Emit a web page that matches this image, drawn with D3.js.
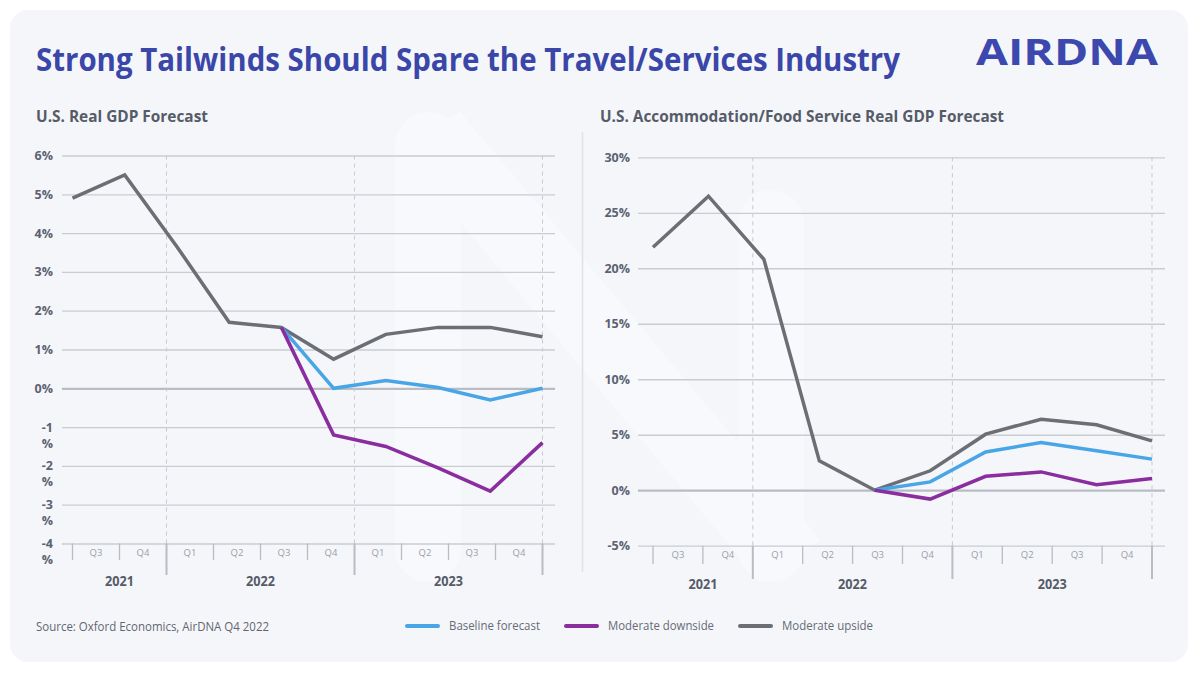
<!DOCTYPE html>
<html><head><meta charset="utf-8">
<script src="https://cdn.jsdelivr.net/npm/d3@7"></script>
<style>
body{margin:0;background:#ffffff;}
svg text{font-family:"Open Sans","Noto Sans",sans-serif;}
</style>
</head><body>
<svg id="chart" width="1200" height="677"></svg>
<script>
// ---------------- DATA ----------------
const quarters     = ["Q3","Q4","Q1","Q2","Q3","Q4","Q1","Q2","Q3","Q4"];
const quarterYears = [2021,2021,2022,2022,2022,2022,2023,2023,2023,2023];
const years        = [2021,2022,2023];

// U.S. Real GDP Forecast (%)  (null = series not drawn for that quarter)
const gdpUpside   = [4.9, 5.5, 3.65, 1.70, 1.57, 0.75, 1.39, 1.57, 1.57, 1.33];
const gdpBaseline = [null,null,null,null, 1.57, 0.00, 0.20, 0.02, -0.30, 0.00];
const gdpDownside = [null,null,null,null, 1.57, -1.20, -1.50, -2.05, -2.65, -1.40];

// U.S. Accommodation/Food Service Real GDP Forecast (%)
const accUpside   = [21.9, 26.5, 20.8, 2.64, 0.0, 1.75, 5.05, 6.40, 5.90, 4.45];
const accBaseline = [null,null,null,null, 0.0, 0.75, 3.45, 4.30, 3.55, 2.80];
const accDownside = [null,null,null,null, 0.0, -0.80, 1.25, 1.65, 0.50, 1.05];

const gdpTicks      = [6,5,4,3,2,1,0,-1,-2,-3,-4];
const gdpTickLabels = ["6%","5%","4%","3%","2%","1%","0%","-1|%","-2|%","-3|%","-4|%"];
const accTicks      = [30,25,20,15,10,5,0,-5];
const accTickLabels = ["30%","25%","20%","15%","10%","5%","0%","-5%"];

const seriesNames  = ["Baseline forecast","Moderate downside","Moderate upside"];
const seriesColors = ["#48a6e6","#8a2d9e","#6b6e73"];

const titleText   = "Strong Tailwinds Should Spare the Travel/Services Industry";
const leftTitle   = "U.S. Real GDP Forecast";
const rightTitle  = "U.S. Accommodation/Food Service Real GDP Forecast";
const sourceText  = "Source: Oxford Economics, AirDNA Q4 2022";
const logoText    = "AIRDNA";

// ---------------- LAYOUT ----------------
const svg = d3.select("#chart");
const periods = quarters.map((q,i)=>quarterYears[i]+" "+q);

svg.append("rect").attr("x",0).attr("y",0).attr("width",1200).attr("height",677).attr("fill","#ffffff");
svg.append("rect").attr("x",10).attr("y",10).attr("width",1178).attr("height",652)
   .attr("rx",18).attr("fill","#f5f6fa");

// faint background mark
const wm = svg.append("g").attr("fill","#f8f9fc");
wm.append("rect").attr("x",395).attr("y",112).attr("width",66).attr("height",470).attr("rx",33);
wm.append("path").attr("d","M400,150 L460,112 L820,540 L760,582 Z");
wm.append("rect").attr("x",738).attr("y",190).attr("width",66).attr("height",392).attr("rx",33);

// Title
svg.append("text").attr("x",36).attr("y",71).text(titleText)
   .attr("font-size",32).attr("font-weight",700).attr("fill","#3a46a8")
   .attr("textLength",864).attr("lengthAdjust","spacingAndGlyphs");

// Logo
svg.append("text").attr("x",976).attr("y",65).text(logoText)
   .attr("font-size",36).attr("font-weight",700).attr("fill","#3c48ad")
   .attr("textLength",182).attr("lengthAdjust","spacingAndGlyphs");

// Separator
svg.append("line").attr("x1",582.5).attr("x2",582.5).attr("y1",132).attr("y2",572)
   .attr("stroke","#dfe1e6").attr("stroke-width",1.5);

function drawChart(cfg){
  const g = svg.append("g");
  // subtitle
  g.append("text").attr("x",cfg.titleX).attr("y",122).text(cfg.title)
   .attr("font-size",16).attr("font-weight",700).attr("fill","#555c68")
   .attr("textLength",cfg.titleW).attr("lengthAdjust","spacingAndGlyphs");

  const y = d3.scaleLinear().domain(cfg.yDomain).range(cfg.yRange);
  const xData = d3.scalePoint().domain(periods).range(cfg.xRange);
  const xBand = d3.scaleBand().domain(periods).range(cfg.xRange).paddingInner(0).paddingOuter(0);

  // y axis (gridlines + labels)
  const gridW = cfg.gridX[1]-cfg.gridX[0];
  const yAxis = d3.axisLeft(y).tickValues(cfg.ticks).tickSize(gridW)
      .tickPadding(cfg.gridX[1]-cfg.labelX-gridW)
      .tickFormat((d,i)=>cfg.tickLabels[i]);
  const ya = g.append("g").attr("transform",`translate(${cfg.gridX[1]},0)`).call(yAxis);
  ya.select(".domain").remove();
  ya.selectAll(".tick line").attr("stroke",d=>d===0?"#b9bcc2":"#c9ccd1")
    .attr("stroke-width",d=>d===0?2.2:1.3);
  ya.selectAll(".tick text").attr("font-size",12.5).attr("font-weight",700)
    .attr("fill","#5b6270").attr("font-family","'Open Sans',sans-serif")
    .each(function(){
      const t = d3.select(this); const s = t.text();
      if(s.indexOf("|")>=0){
        const parts = s.split("|"); t.text(null);
        const xx = t.attr("x");
        t.append("tspan").attr("x",xx).attr("dy","0.32em").text(parts[0]);
        t.append("tspan").attr("x",xx).attr("dy","16").text(parts[1]);
        t.attr("dy",null);
      }
    });

  // x axis: quarter ticks
  const tickPos = periods.map(p=>xBand(p)).concat([cfg.xRange[1]]);
  const isBoundary = tickPos.map((p,i)=> i===periods.length || (i>0 && quarterYears[i]!==quarterYears[i-1]));
  // dashed year boundary lines
  g.selectAll(".dash").data(tickPos.filter((p,i)=>isBoundary[i])).enter().append("line")
   .attr("x1",d=>d).attr("x2",d=>d).attr("y1",y(cfg.yDomain[1])).attr("y2",cfg.axisY)
   .attr("stroke","#c6c9cf").attr("stroke-width",1).attr("stroke-dasharray","4,4");
  g.selectAll(".qt").data(tickPos).enter().append("line")
   .attr("x1",d=>d).attr("x2",d=>d).attr("y1",cfg.axisY)
   .attr("y2",(d,i)=>isBoundary[i]?cfg.bigTickEnd:cfg.smallTickEnd)
   .attr("stroke","#b9bcc2").attr("stroke-width",(d,i)=>isBoundary[i]?2:1.3);
  g.selectAll(".ql").data(periods).enter().append("text")
   .attr("x",d=>xBand(d)+xBand.bandwidth()/2).attr("y",cfg.qLabelY)
   .attr("dy","0.35em").attr("text-anchor","middle").attr("font-size",9.5)
   .attr("fill","#9aa0a8").text((d,i)=>quarters[i]);
  // year labels
  years.forEach(yr=>{
    const ps = periods.filter((p,i)=>quarterYears[i]===yr);
    const x0 = xBand(ps[0]), x1 = xBand(ps[ps.length-1])+xBand.bandwidth();
    g.append("text").attr("x",(x0+x1)/2).attr("y",cfg.yearY).attr("dy","0.35em")
     .attr("text-anchor","middle").attr("font-size",14).attr("font-weight",700)
     .attr("fill","#555c68").text(yr)
     .attr("textLength",29).attr("lengthAdjust","spacingAndGlyphs");
  });

  // lines
  const line = d3.line().defined(d=>d.v!==null).x(d=>xData(d.p)).y(d=>y(d.v));
  const order = [2,0,1];
  order.forEach(k=>{
    const vals = cfg.series[k];
    const pts = periods.map((p,i)=>({p:p,v:vals[i]}));
    g.append("path").datum(pts).attr("d",line).attr("fill","none")
     .attr("stroke",seriesColors[k]).attr("stroke-width",3.5)
     .attr("stroke-linejoin","miter").attr("stroke-linecap","butt");
  });
}

drawChart({
  title:leftTitle, titleX:36, titleW:172,
  yDomain:[-4,6], yRange:[543.5,155.5], ticks:gdpTicks, tickLabels:gdpTickLabels,
  gridX:[62,555], labelX:53, xRange:[72.5,542.5],
  axisY:543.5, smallTickEnd:560, bigTickEnd:575, qLabelY:553, yearY:581,
  series:[gdpBaseline,gdpDownside,gdpUpside]
});
drawChart({
  title:rightTitle, titleX:600, titleW:404,
  yDomain:[-5,30], yRange:[545.7,157.3], ticks:accTicks, tickLabels:accTickLabels,
  gridX:[638,1165], labelX:630, xRange:[653,1152],
  axisY:545.7, smallTickEnd:564, bigTickEnd:579, qLabelY:555, yearY:584,
  series:[accBaseline,accDownside,accUpside]
});

// Source
svg.append("text").attr("x",36).attr("y",631).text(sourceText)
   .attr("font-size",12).attr("fill","#5f6670")
   .attr("textLength",233).attr("lengthAdjust","spacingAndGlyphs");

// Legend
const legendW = [91,106,91];
let lx = 407;
seriesNames.forEach((n,i)=>{
  svg.append("line").attr("x1",lx).attr("x2",lx+31).attr("y1",626).attr("y2",626)
     .attr("stroke",seriesColors[i]).attr("stroke-width",4).attr("stroke-linecap","round");
  svg.append("text").attr("x",lx+42).attr("y",630).text(n)
     .attr("font-size",12).attr("fill","#656b76")
     .attr("textLength",legendW[i]).attr("lengthAdjust","spacingAndGlyphs");
  lx += 42 + legendW[i] + 26;
});
</script>
</body></html>
